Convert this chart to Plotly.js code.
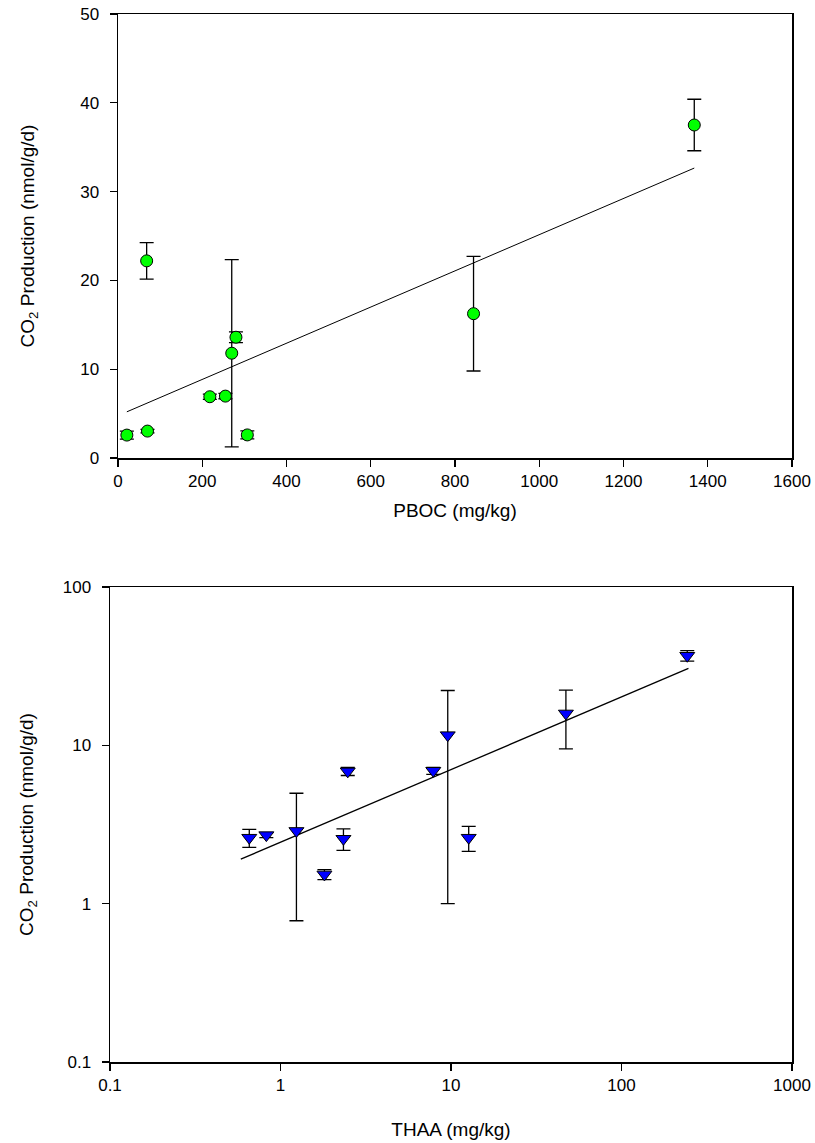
<!DOCTYPE html>
<html>
<head>
<meta charset="utf-8">
<script src="https://cdn.plot.ly/plotly-3.0.1.min.js"></script>
<style>html,body{margin:0;padding:0;background:#fff;}#chart{width:815px;height:1143px;}</style>
</head>
<body>
<div id="chart"></div>
<script>
// Top panel: CO2 production vs PBOC
const pbocX = [21, 70, 68, 218, 255, 270, 280, 307, 844, 1368];
const pbocY = [2.58, 3.03, 22.2, 6.9, 6.97, 11.8, 13.6, 2.6, 16.25, 37.5];
const pbocErr = [0.45, 0.2, 2.05, 0.3, 0.3, 10.55, 0.6, 0.45, 6.45, 2.9];
const pbocFitX = [21, 1368];
const pbocFitY = [5.2, 32.65];

// Bottom panel: CO2 production vs THAA (log-log)
const thaaX = [0.656, 0.826, 1.24, 1.81, 2.48, 2.34, 7.87, 9.57, 12.7, 47.2, 243];
const thaaY = [2.61, 2.71, 2.88, 1.53, 6.85, 2.57, 6.91, 11.6, 2.61, 15.9, 36.8];
const thaaErr = [0.34, 0.1, 2.1, 0.11, 0.4, 0.4, 0.35, 10.6, 0.47, 6.4, 2.8];
const thaaFitX = [0.585, 247];
const thaaFitY = [1.91, 30.6];

const topXTicks = [0, 200, 400, 600, 800, 1000, 1200, 1400, 1600];
const topYTicks = [0, 10, 20, 30, 40, 50];
const logTicks = [0.1, 1, 10, 100, 1000];
const logTickText = ['0.1', '1', '10', '100', '1000'];
const logYTicks = [0.1, 1, 10, 100];
const logYTickText = ['0.1', '1', '10', '100'];

const W = 815, H = 1143;
const px = v => v / W;
const py = v => 1 - v / H;

const font = {family: 'Liberation Sans, Arial, sans-serif', size: 17, color: '#000'};
const titleFont = {family: 'Liberation Sans, Arial, sans-serif', size: 19, color: '#000'};

const traces = [
  {
    x: pbocFitX, y: pbocFitY, xaxis: 'x', yaxis: 'y', mode: 'lines',
    line: {color: '#000', width: 1}, hoverinfo: 'skip', showlegend: false
  },
  {
    x: pbocX, y: pbocY, xaxis: 'x', yaxis: 'y', mode: 'markers', showlegend: false,
    marker: {symbol: 'circle', size: 12, color: '#00ff00', line: {color: '#000', width: 1}},
    error_y: {type: 'data', array: pbocErr, visible: true, color: '#000', thickness: 1.3, width: 7}
  },
  {
    x: thaaFitX, y: thaaFitY, xaxis: 'x2', yaxis: 'y2', mode: 'lines',
    line: {color: '#000', width: 1.3}, hoverinfo: 'skip', showlegend: false
  },
  {
    x: thaaX, y: thaaY, xaxis: 'x2', yaxis: 'y2', mode: 'markers', showlegend: false,
    marker: {symbol: 'triangle-down', size: 13, color: '#0000ff', line: {color: '#000', width: 1}},
    error_y: {type: 'data', array: thaaErr, visible: true, color: '#000', thickness: 1.3, width: 7}
  }
];

const axisCommon = {
  showline: true, linecolor: '#000', linewidth: 1.5, mirror: true,
  ticks: 'outside', ticklen: 7, tickwidth: 1.3, tickcolor: '#000',
  showgrid: false, zeroline: false, tickfont: font
};

const layout = {
  width: W, height: H,
  margin: {l: 0, r: 0, t: 0, b: 0},
  paper_bgcolor: '#fff', plot_bgcolor: '#fff',
  font: font,
  showlegend: false,
  xaxis: Object.assign({}, axisCommon, {
    domain: [px(118), px(792)], anchor: 'y', range: [0, 1600],
    tickmode: 'array', tickvals: topXTicks,
    title: {text: 'PBOC (mg/kg)', font: titleFont, standoff: 14}
  }),
  yaxis: Object.assign({}, axisCommon, {
    domain: [py(458), py(14)], anchor: 'x', range: [0, 50],
    tickmode: 'array', tickvals: topYTicks, ticklabelstandoff: 7,
    title: {text: 'CO<sub>2</sub> Production (nmol/g/d)', font: titleFont, standoff: 40}
  }),
  xaxis2: Object.assign({}, axisCommon, {
    domain: [px(110), px(792)], anchor: 'y2', type: 'log', range: [-1, 3],
    tickmode: 'array', tickvals: logTicks, ticktext: logTickText,
    title: {text: 'THAA (mg/kg)', font: titleFont, standoff: 29}
  }),
  yaxis2: Object.assign({}, axisCommon, {
    domain: [py(1062), py(587)], anchor: 'x2', type: 'log', range: [-1, 2],
    tickmode: 'array', tickvals: logYTicks, ticktext: logYTickText, ticklabelstandoff: 7,
    title: {text: 'CO<sub>2</sub> Production (nmol/g/d)', font: titleFont, standoff: 24}
  })
};

Plotly.newPlot('chart', traces, layout, {staticPlot: true, displayModeBar: false});
</script>
</body>
</html>
